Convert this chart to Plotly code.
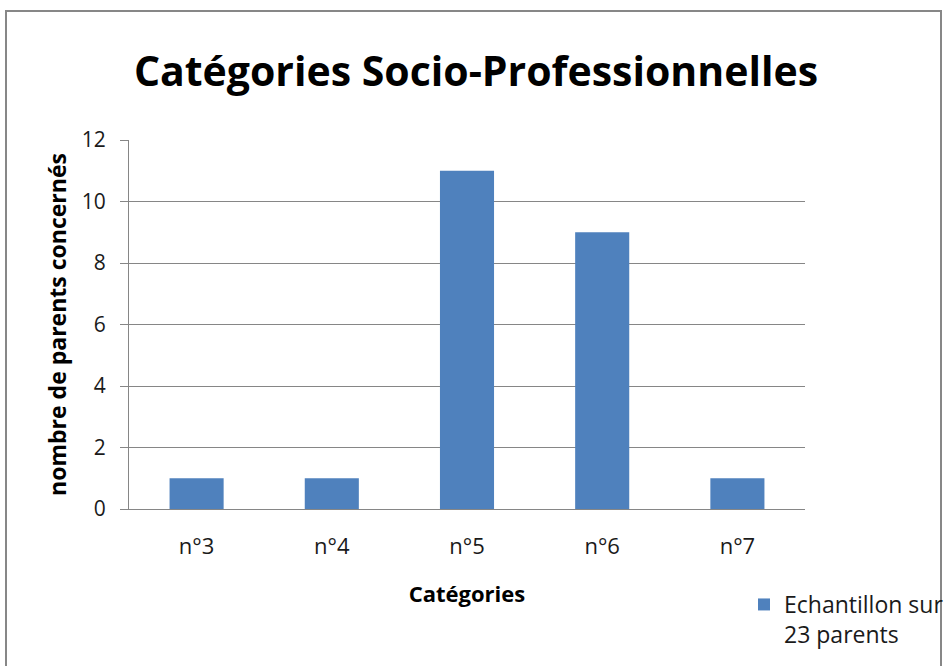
import plotly.graph_objects as go

categories = ["n°3", "n°4", "n°5", "n°6", "n°7"]
values = [1, 1, 11, 9, 1]
series_name = "Echantillon sur<br>23 parents"
y_ticks = [0, 2, 4, 6, 8, 10, 12]

W, H = 944, 666
L, R, T, B = 129, 805, 140, 509

fig = go.Figure()
fig.add_trace(go.Bar(
    x=categories, y=values, name=series_name,
    marker=dict(color="#4F81BD", line=dict(width=0)),
    width=0.4, showlegend=True,
))

pw, ph = R - L, B - T
def px_x(x):
    return (x - L) / pw
def px_y(y):
    return (B - y) / ph

fig.update_layout(
    width=W, height=H,
    margin=dict(l=L, r=W - R, t=T, b=H - B, pad=0, autoexpand=False),
    paper_bgcolor="white", plot_bgcolor="white",
    font=dict(family="Open Sans, Liberation Sans, sans-serif", color="#1a1a1a"),
    title=dict(
        text="<b>Catégories Socio-Professionnelles</b>",
        x=476 / W, xref="container", xanchor="center",
        y=1 - 72 / H, yref="container", yanchor="middle",
        font=dict(size=41, color="black", family="Open Sans, sans-serif"),
    ),
    xaxis=dict(
        showline=True, linecolor="#868686", linewidth=1,
        ticks="", tickfont=dict(size=22, color="#1a1a1a"),
        ticklabelstandoff=18,
        title=dict(text="<b>Catégories</b>", font=dict(size=22, color="black"), standoff=27),
        showgrid=False,
    ),
    yaxis=dict(
        range=[0, 12], tickvals=y_ticks,
        showline=True, linecolor="#868686", linewidth=1,
        ticks="outside", ticklen=8, tickcolor="#868686",
        tickfont=dict(size=21, color="#1a1a1a"),
        ticklabelstandoff=10,
        showgrid=True, gridcolor="#868686", gridwidth=1,
        zeroline=False,
        title=dict(text="<b>nombre de parents concernés</b>", font=dict(size=23, color="black"), standoff=8),
    ),
    legend=dict(
        xref="container", yref="container",
        x=744 / W, y=1 - 583 / H, xanchor="left", yanchor="top",
        font=dict(size=23, color="#1a1a1a"),
        bgcolor="rgba(0,0,0,0)", itemwidth=30, valign="top",
    ),
    bargap=0.6,
)

fig.add_shape(
    type="rect", xref="paper", yref="paper",
    x0=px_x(6), x1=px_x(941), y0=px_y(720), y1=px_y(11),
    line=dict(color="#878787", width=2), fillcolor="rgba(0,0,0,0)", layer="above",
)

fig.write_html(
    "out.html",
    config={"displayModeBar": False},
    post_script="document.body.style.margin='0';document.body.style.overflow='hidden';",
)
